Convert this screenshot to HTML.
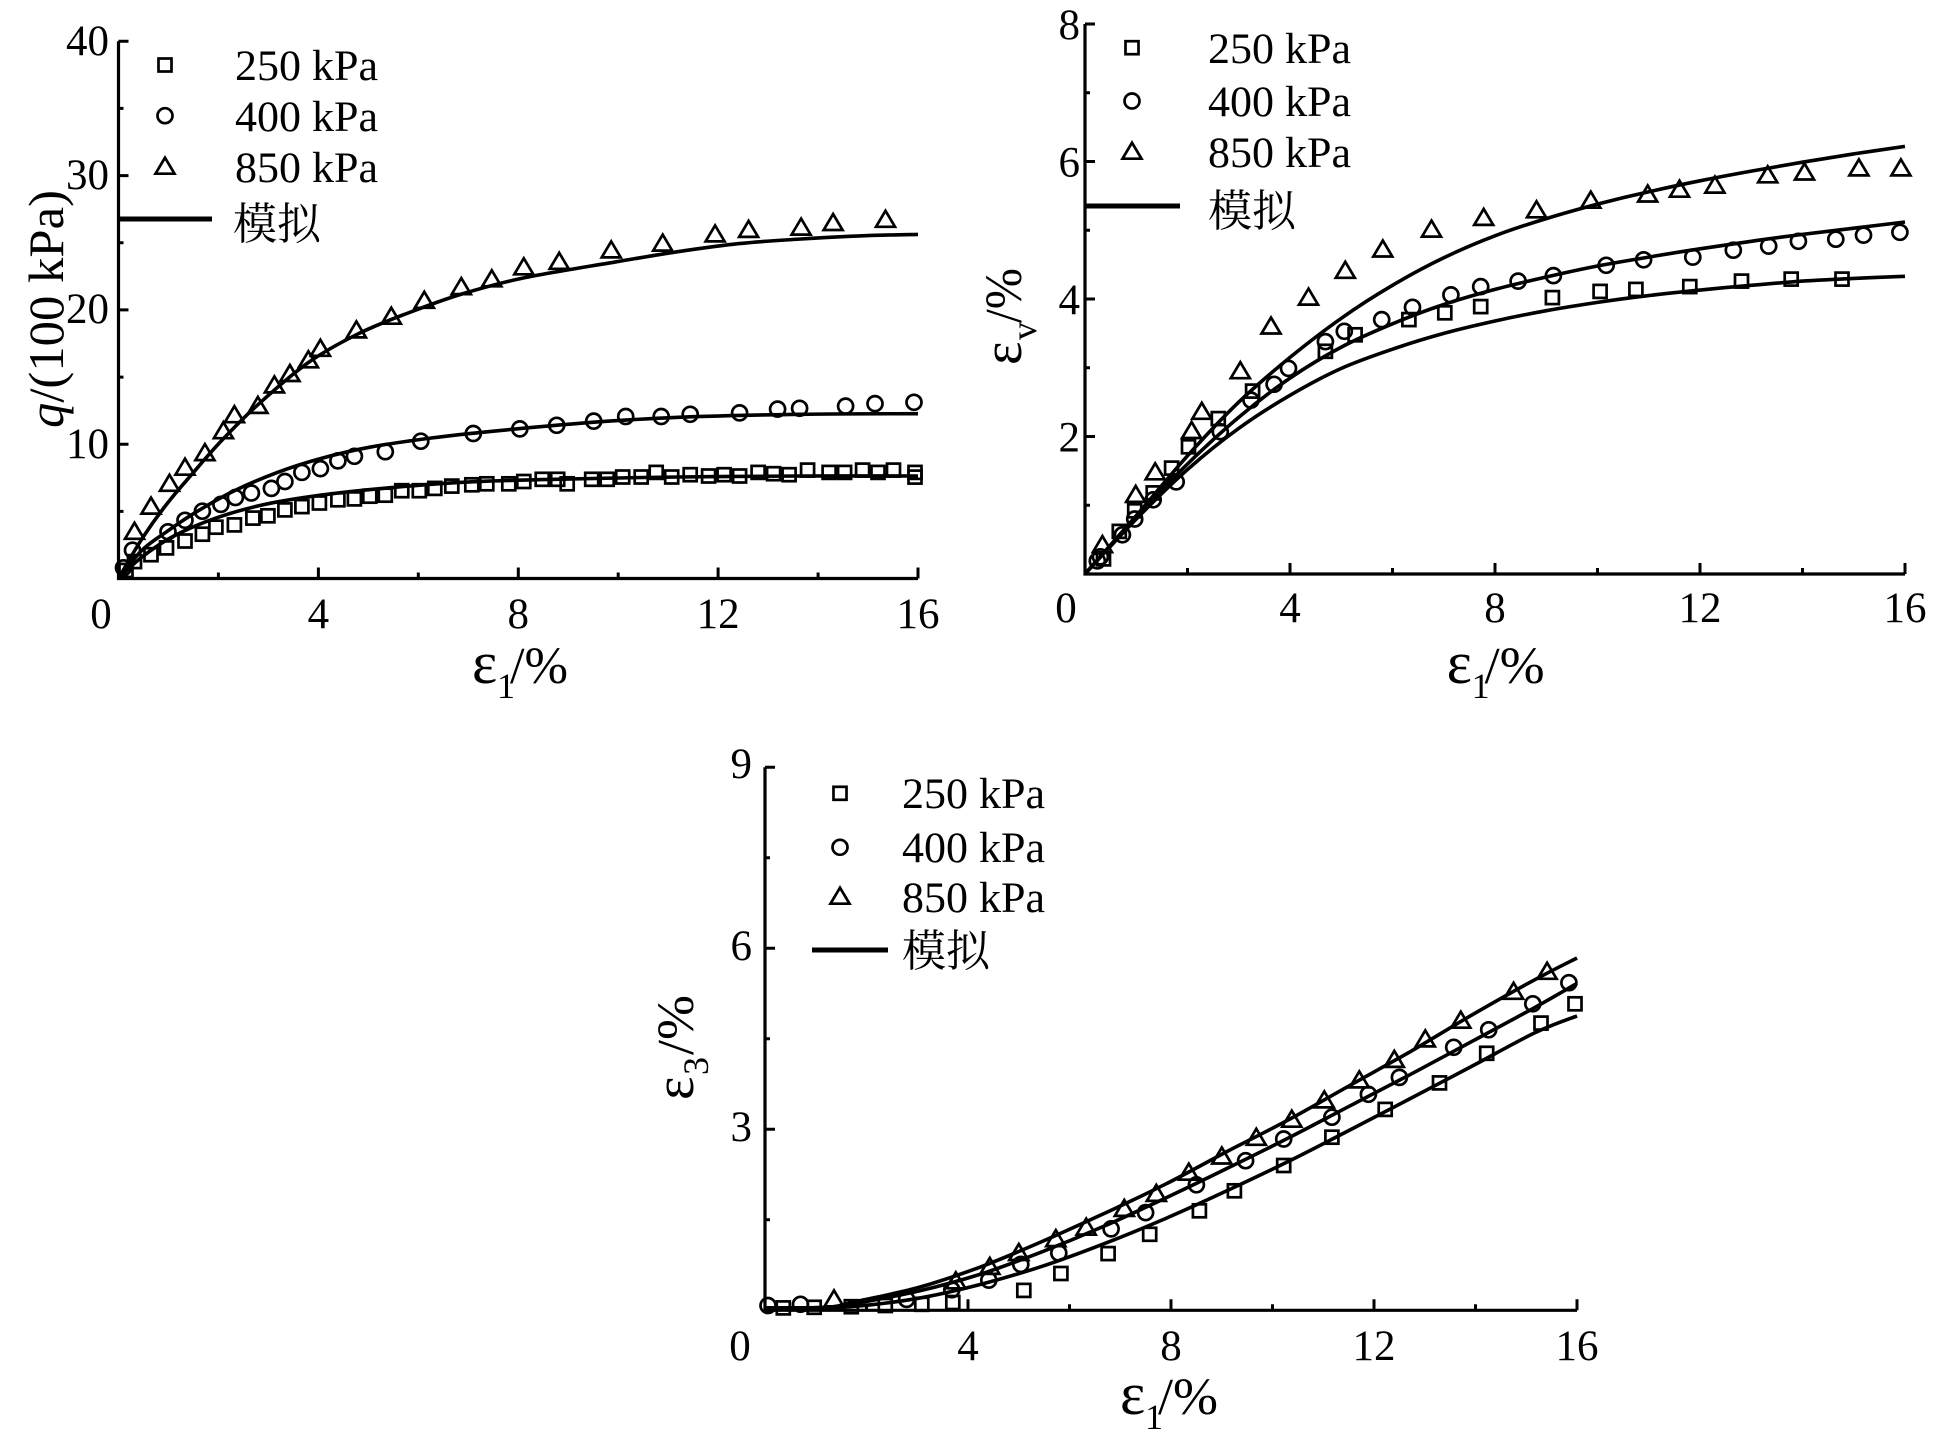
<!DOCTYPE html>
<html>
<head>
<meta charset="utf-8">
<style>
html,body{margin:0;padding:0;background:#fff;}
svg{display:block;}
</style>
</head>
<body>
<svg id="s" width="1935" height="1443" viewBox="0 0 1935 1443" xmlns="http://www.w3.org/2000/svg" font-family="'Liberation Serif','Noto Serif CJK SC',serif" fill="#000">
<rect x="0" y="0" width="1935" height="1443" fill="#fff"/>

<!-- ===== Chart 1 text ===== -->
<g font-size="43">
  <text x="109" y="55" text-anchor="end">40</text>
  <text x="109" y="189" text-anchor="end">30</text>
  <text x="109" y="323" text-anchor="end">20</text>
  <text x="109" y="458" text-anchor="end">10</text>
  <text x="101" y="628" text-anchor="middle">0</text>
  <text x="318.4" y="628" text-anchor="middle">4</text>
  <text x="518.3" y="628" text-anchor="middle">8</text>
  <text x="718.1" y="628" text-anchor="middle">12</text>
  <text x="918" y="628" text-anchor="middle">16</text>
  <text x="235" y="80" textLength="143" lengthAdjust="spacingAndGlyphs">250 kPa</text>
  <text x="235" y="131" textLength="143" lengthAdjust="spacingAndGlyphs">400 kPa</text>
  <text x="235" y="182" textLength="143" lengthAdjust="spacingAndGlyphs">850 kPa</text>
  <text x="233" y="239" font-size="44">模拟</text>
</g>
<text transform="translate(63,428) rotate(-90)" font-size="50" textLength="238" lengthAdjust="spacingAndGlyphs"><tspan font-style="italic">q</tspan>/(100 kPa)</text>
<text x="472" y="683" font-size="60">ε</text>
<text x="497" y="698" font-size="36">1</text>
<text x="510" y="683" font-size="52" textLength="58" lengthAdjust="spacingAndGlyphs">/%</text>

<!-- ===== Chart 2 text ===== -->
<g font-size="43">
  <text x="1080" y="39" text-anchor="end">8</text>
  <text x="1080" y="176.5" text-anchor="end">6</text>
  <text x="1080" y="314" text-anchor="end">4</text>
  <text x="1080" y="451.5" text-anchor="end">2</text>
  <text x="1066" y="622" text-anchor="middle">0</text>
  <text x="1290" y="622" text-anchor="middle">4</text>
  <text x="1495" y="622" text-anchor="middle">8</text>
  <text x="1700" y="622" text-anchor="middle">12</text>
  <text x="1905" y="622" text-anchor="middle">16</text>
  <text x="1208" y="63" textLength="143" lengthAdjust="spacingAndGlyphs">250 kPa</text>
  <text x="1208" y="116" textLength="143" lengthAdjust="spacingAndGlyphs">400 kPa</text>
  <text x="1208" y="167" textLength="143" lengthAdjust="spacingAndGlyphs">850 kPa</text>
  <text x="1208" y="226" font-size="44">模拟</text>
</g>
<g transform="translate(1021,365) rotate(-90)">
  <text x="0" y="0" font-size="56">ε</text>
  <text x="25" y="15" font-size="36">v</text>
  <text x="42" y="0" font-size="52" textLength="55" lengthAdjust="spacingAndGlyphs">/%</text>
</g>
<text x="1446.6" y="683" font-size="60">ε</text>
<text x="1471.6" y="698" font-size="36">1</text>
<text x="1484.6" y="683" font-size="52" textLength="60" lengthAdjust="spacingAndGlyphs">/%</text>

<!-- ===== Chart 3 text ===== -->
<g font-size="43">
  <text x="752" y="778" text-anchor="end">9</text>
  <text x="752" y="960" text-anchor="end">6</text>
  <text x="752" y="1141" text-anchor="end">3</text>
  <text x="740" y="1360" text-anchor="middle">0</text>
  <text x="968" y="1360" text-anchor="middle">4</text>
  <text x="1171" y="1360" text-anchor="middle">8</text>
  <text x="1374" y="1360" text-anchor="middle">12</text>
  <text x="1577" y="1360" text-anchor="middle">16</text>
  <text x="902" y="808" textLength="143" lengthAdjust="spacingAndGlyphs">250 kPa</text>
  <text x="902" y="862" textLength="143" lengthAdjust="spacingAndGlyphs">400 kPa</text>
  <text x="902" y="912" textLength="143" lengthAdjust="spacingAndGlyphs">850 kPa</text>
  <text x="902" y="966" font-size="44">模拟</text>
</g>
<g transform="translate(693,1100) rotate(-90)">
  <text x="0" y="0" font-size="56">ε</text>
  <text x="25" y="15" font-size="36">3</text>
  <text x="45" y="0" font-size="52" textLength="60" lengthAdjust="spacingAndGlyphs">/%</text>
</g>
<text x="1120" y="1414" font-size="60">ε</text>
<text x="1145" y="1429" font-size="36">1</text>
<text x="1158" y="1414" font-size="52" textLength="60" lengthAdjust="spacingAndGlyphs">/%</text>

<!-- legend lines -->
<line x1="120" y1="219" x2="212" y2="219" stroke="#000" stroke-width="5"/>
<line x1="1085" y1="206" x2="1180" y2="206" stroke="#000" stroke-width="5"/>
<line x1="812" y1="950" x2="888" y2="950" stroke="#000" stroke-width="5"/>

<g id="plots"></g>
</svg>
<script>
(function(){
const NS='http://www.w3.org/2000/svg';
const g=document.getElementById('plots');
function el(tag,attrs){const e=document.createElementNS(NS,tag);for(const k in attrs)e.setAttribute(k,attrs[k]);g.appendChild(e);return e;}
function f(v){return v.toFixed(1);}
function spline(pts){
  let d='M'+f(pts[0][0])+','+f(pts[0][1]);
  for(let i=0;i<pts.length-1;i++){
    const p0=pts[i-1]||pts[i],p1=pts[i],p2=pts[i+1],p3=pts[i+2]||pts[i+1];
    const c1=[p1[0]+(p2[0]-p0[0])/6,p1[1]+(p2[1]-p0[1])/6];
    const c2=[p2[0]-(p3[0]-p1[0])/6,p2[1]-(p3[1]-p1[1])/6];
    d+=' C'+f(c1[0])+','+f(c1[1])+' '+f(c2[0])+','+f(c2[1])+' '+f(p2[0])+','+f(p2[1]);
  }
  return d;
}
const MS=2.7;
function sq(x,y){el('rect',{x:f(x-6.5),y:f(y-6.5),width:13,height:13,fill:'none',stroke:'#000','stroke-width':MS});}
function ci(x,y){el('circle',{cx:f(x),cy:f(y),r:7.5,fill:'none',stroke:'#000','stroke-width':MS});}
function tr(x,y){el('polygon',{points:f(x)+','+f(y-9)+' '+f(x+9.5)+','+f(y+7)+' '+f(x-9.5)+','+f(y+7),fill:'none',stroke:'#000','stroke-width':MS,'stroke-linejoin':'miter'});}

function chart(c){
  const X=v=>c.ox+v*c.sx, Y=v=>c.oy-v*c.sy;
  c.curves.forEach(cv=>{
    el('path',{d:spline(cv.map(p=>[X(p[0]),Y(p[1])])),fill:'none',stroke:'#000','stroke-width':3.6,'stroke-linecap':'butt'});
  });
  c.sq.forEach(p=>sq(X(p[0]),Y(p[1])));
  c.ci.forEach(p=>ci(X(p[0]),Y(p[1])));
  c.tr.forEach(p=>tr(X(p[0]),Y(p[1])));
  el('path',{d:'M'+f(X(0))+','+f(Y(c.ymax))+' L'+f(X(0))+','+f(c.oy)+' L'+f(X(16))+','+f(c.oy),fill:'none',stroke:'#000','stroke-width':3.2,'stroke-linejoin':'miter'});
  let d='';
  c.yMaj.forEach(v=>{d+='M'+f(X(0))+','+f(Y(v))+' h10 ';});
  c.yMin.forEach(v=>{d+='M'+f(X(0))+','+f(Y(v))+' h5 ';});
  [4,8,12,16].forEach(v=>{d+='M'+f(X(v))+','+f(c.oy)+' v-11 ';});
  [2,6,10,14].forEach(v=>{d+='M'+f(X(v))+','+f(c.oy)+' v-6 ';});
  el('path',{d:d,fill:'none',stroke:'#000','stroke-width':3});
  // legend markers
  sq(c.lx,c.ly[0]); ci(c.lx,c.ly[1]); tr(c.lx,c.ly[2]);
}
function fromVals(v){return v.map((y,i)=>[i,y]);}

// ---------- Chart 1 ----------
chart({ox:118.5,oy:578.5,sx:49.97,sy:13.43,ymax:40,yMaj:[10,20,30,40],yMin:[5,15,25,35],
 lx:165,ly:[65,115.7,166.7],
 sq:[[0.15,0.6],[0.32,1.26],[0.65,1.77],[0.96,2.28],[1.33,2.79],[1.68,3.30],[1.95,3.82],[2.32,3.99],[2.69,4.50],[2.99,4.67],[3.33,5.11],[3.67,5.35],[4.02,5.62],[4.39,5.86],[4.72,5.93],[5.03,6.13],[5.34,6.20],[5.67,6.54],[6.02,6.54],[6.33,6.71],[6.67,6.88],[7.07,6.98],[7.37,7.05],[7.81,7.05],[8.11,7.22],[8.48,7.39],[8.79,7.39],[8.98,7.05],[9.47,7.39],[9.78,7.39],[10.09,7.56],[10.46,7.56],[10.76,7.90],[11.07,7.56],[11.44,7.73],[11.81,7.63],[12.12,7.73],[12.43,7.63],[12.80,7.90],[13.11,7.80],[13.42,7.73],[13.79,8.07],[14.22,7.90],[14.53,7.90],[14.89,8.07],[15.20,7.90],[15.51,8.07],[15.94,7.90],[15.94,7.55]],
 ci:[[0.1,0.8],[0.28,2.11],[0.99,3.48],[1.33,4.33],[1.68,5.01],[2.05,5.52],[2.34,6.03],[2.66,6.37],[3.06,6.71],[3.33,7.22],[3.67,7.90],[4.04,8.18],[4.39,8.76],[4.72,9.10],[5.34,9.44],[6.05,10.22],[7.10,10.80],[8.03,11.14],[8.77,11.41],[9.51,11.72],[10.15,12.06],[10.86,12.06],[11.44,12.23],[12.43,12.33],[13.19,12.61],[13.63,12.67],[14.55,12.84],[15.14,13.02],[15.92,13.12]],
 tr:[[0.32,3.48],[0.65,5.35],[1.02,7.05],[1.33,8.25],[1.73,9.34],[2.10,10.97],[2.32,12.16],[2.79,12.85],[3.12,14.38],[3.43,15.23],[3.80,16.25],[4.04,17.1],[4.76,18.47],[5.46,19.49],[6.12,20.68],[6.86,21.7],[7.47,22.28],[8.11,23.17],[8.82,23.58],[9.86,24.43],[10.89,24.94],[11.94,25.62],[12.61,25.96],[13.66,26.13],[14.30,26.47],[15.35,26.71]],
 curves:[
  [[0,0],[0.47,1.6],[1.09,3.13],[1.95,4.5],[2.93,5.52],[4.04,6.2],[5.28,6.71],[6.88,7.16],[8.73,7.39],[11.2,7.56],[13.66,7.63],[16,7.63]],
  [[0,0],[0.47,2.11],[0.96,3.48],[1.58,5.01],[2.32,6.54],[3.18,7.90],[4.04,8.93],[5.03,9.78],[6.26,10.46],[7.50,10.97],[9.35,11.59],[11.2,12.0],[13.66,12.23],[16,12.27]],
  [[0,0],[0.47,2.96],[0.96,5.52],[1.46,7.73],[2.07,10.29],[2.81,13.01],[3.80,16.08],[4.78,18.19],[5.77,19.73],[6.88,21.19],[8.11,22.38],[9.96,23.58],[11.19,24.33],[12.42,24.94],[13.66,25.28],[14.89,25.52],[16,25.62]]
 ]});

// ---------- Chart 2 ----------
chart({ox:1085,oy:574,sx:51.25,sy:68.75,ymax:8,yMaj:[2,4,6,8],yMin:[1,3,5,7],
 lx:1132,ly:[47.7,101,151.7],
 sq:[[0.36,0.22],[0.67,0.62],[0.97,0.92],[1.33,1.18],[1.69,1.54],[2.02,1.85],[2.60,2.26],[3.27,2.66],[4.69,3.24],[5.27,3.48],[6.32,3.70],[7.02,3.80],[7.72,3.89],[9.12,4.02],[10.05,4.11],[10.75,4.14],[11.80,4.18],[12.81,4.26],[13.78,4.29],[14.77,4.29]],
 ci:[[0.24,0.19],[0.30,0.25],[0.73,0.57],[0.97,0.80],[1.33,1.08],[1.78,1.34],[2.64,2.07],[3.24,2.53],[3.69,2.76],[3.97,2.99],[4.69,3.38],[5.06,3.53],[5.79,3.70],[6.39,3.88],[7.14,4.06],[7.72,4.18],[8.45,4.26],[9.14,4.34],[10.17,4.49],[10.90,4.57],[11.86,4.61],[12.65,4.71],[13.34,4.77],[13.92,4.84],[14.65,4.87],[15.19,4.93],[15.90,4.97]],
 tr:[[0.34,0.42],[0.99,1.15],[1.37,1.48],[2.08,2.08],[2.28,2.36],[3.03,2.95],[3.63,3.60],[4.36,4.02],[5.08,4.41],[5.81,4.72],[6.76,5.01],[7.78,5.18],[8.81,5.29],[9.87,5.43],[10.98,5.52],[11.60,5.59],[12.29,5.65],[13.32,5.80],[14.04,5.84],[15.10,5.90],[15.92,5.90]],
 curves:[
  fromVals([0,0.8,1.52,2.12,2.6,2.99,3.27,3.5,3.68,3.83,3.95,4.05,4.13,4.2,4.26,4.3,4.33]),
  fromVals([0,0.83,1.6,2.28,2.85,3.3,3.64,3.92,4.14,4.32,4.48,4.61,4.73,4.84,4.94,5.03,5.12]),
  fromVals([0,0.85,1.72,2.5,3.15,3.72,4.2,4.6,4.92,5.17,5.38,5.56,5.72,5.86,5.99,6.11,6.22])
 ]});

// ---------- Chart 3 ----------
chart({ox:765,oy:1310.3,sx:50.75,sy:60.33,ymax:9,yMaj:[3,6,9],yMin:[1.5,4.5,7.5],
 lx:840,ly:[793.3,847.3,896.7],
 sq:[[0.36,0.04],[0.97,0.05],[1.70,0.06],[2.37,0.08],[3.09,0.10],[3.70,0.13],[5.10,0.33],[5.83,0.61],[6.76,0.94],[7.58,1.26],[8.56,1.65],[9.25,1.98],[10.22,2.40],[11.17,2.87],[12.22,3.33],[13.29,3.77],[14.22,4.26],[15.29,4.76],[15.96,5.08]],
 ci:[[0.06,0.08],[0.70,0.10],[2.79,0.18],[3.68,0.34],[4.41,0.50],[5.04,0.76],[5.79,0.95],[6.82,1.35],[7.50,1.62],[8.50,2.08],[9.47,2.48],[10.22,2.84],[11.17,3.20],[11.89,3.58],[12.50,3.86],[13.57,4.36],[14.26,4.65],[15.13,5.08],[15.84,5.43]],
 tr:[[1.36,0.18],[3.76,0.48],[4.43,0.72],[5.0,0.95],[5.73,1.18],[6.33,1.37],[7.08,1.68],[7.71,1.93],[8.35,2.28],[9.0,2.55],[9.68,2.86],[10.38,3.16],[11.02,3.48],[11.71,3.81],[12.40,4.15],[13.01,4.49],[13.71,4.80],[14.75,5.28],[15.41,5.61]],
 curves:[
  [[0,0.04],[1.0,0.04],[1.82,0.07],[3.03,0.2],[4.25,0.43],[5.46,0.73],[6.67,1.1],[7.89,1.52],[9.1,1.98],[10.32,2.47],[11.53,2.99],[12.74,3.52],[13.96,4.06],[15.17,4.6],[16,4.88]],
  [[0,0.04],[1.21,0.05],[1.82,0.12],[3.03,0.32],[4.25,0.6],[5.46,0.97],[6.67,1.39],[7.89,1.86],[9.1,2.35],[10.32,2.86],[11.53,3.39],[12.74,3.92],[13.96,4.47],[15.17,5.02],[16,5.42]],
  [[0,0.04],[1.21,0.05],[1.82,0.15],[3.03,0.38],[4.25,0.72],[5.46,1.14],[6.67,1.6],[7.89,2.09],[9.1,2.63],[10.32,3.16],[11.53,3.73],[12.74,4.3],[13.96,4.91],[15.17,5.48],[16,5.84]]
 ]});
})();
</script>
</body>
</html>
